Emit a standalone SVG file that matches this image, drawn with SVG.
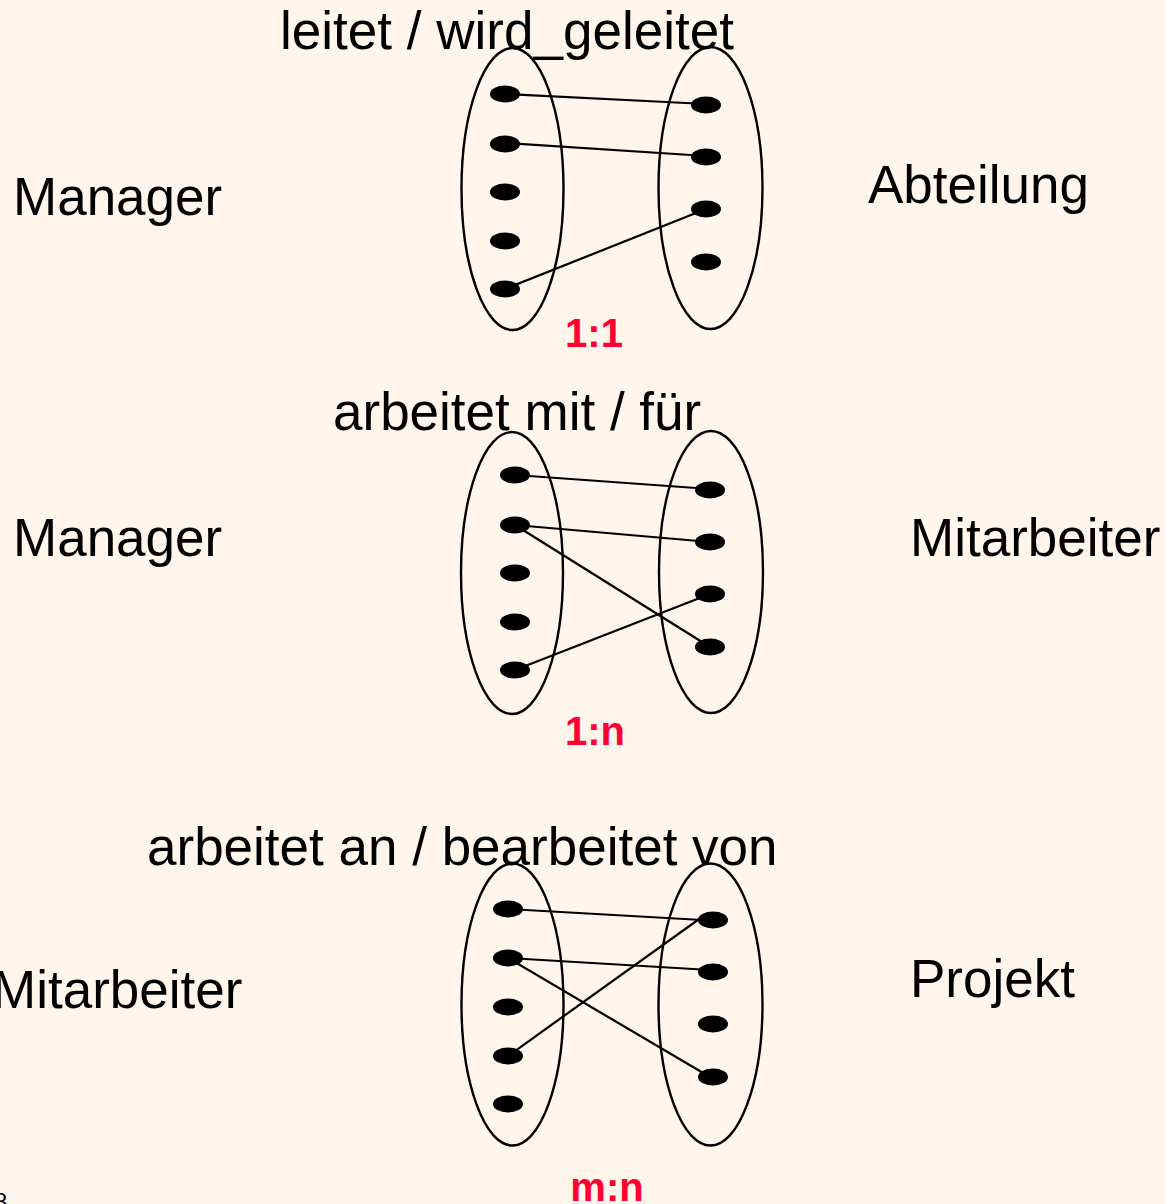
<svg xmlns="http://www.w3.org/2000/svg" width="1165" height="1204" viewBox="0 0 1165 1204">
  <style>
    .bg { fill: #FFF5EA; }
    .set { fill: none; stroke: #000; stroke-width: 2.4; }
    .elem { fill: #000; }
    .link { stroke: #000; stroke-width: 2.2; fill: none; }
    .label { font-family: "Liberation Sans", Arial, sans-serif; font-size: 53px; fill: #000; }
    .card { font-family: "Liberation Sans", Arial, sans-serif; font-size: 40px; font-weight: bold; fill: #FF0033; text-anchor: middle; }
    .page { font-family: "Liberation Sans", Arial, sans-serif; font-size: 24px; fill: #000; }
  </style>
  <defs>
    <ellipse id="dot" rx="15" ry="8.5"/>
  </defs>
  <rect class="bg" x="0" y="0" width="1165" height="1204"/>

  <!-- 1:1 Manager leitet Abteilung -->
  <g id="rel-leitet">
    <text class="label" x="280" y="49" textLength="454">leitet / wird_geleitet</text>
    <text class="card" x="594" y="347">1:1</text>
  </g>
  <g id="manager-1">
    <text class="label" x="13" y="215">Manager</text>
    <ellipse class="set" cx="512.5" cy="189" rx="51" ry="141"/>
    <use href="#dot" class="elem" x="505" y="94"/>
    <use href="#dot" class="elem" x="505" y="144"/>
    <use href="#dot" class="elem" x="505" y="192"/>
    <use href="#dot" class="elem" x="505" y="241"/>
    <use href="#dot" class="elem" x="505" y="289"/>
  </g>
  <g id="abteilung">
    <text class="label" x="868" y="203">Abteilung</text>
    <ellipse class="set" cx="710.5" cy="188" rx="52" ry="141"/>
    <use href="#dot" class="elem" x="706" y="105"/>
    <use href="#dot" class="elem" x="706" y="157"/>
    <use href="#dot" class="elem" x="706" y="209"/>
    <use href="#dot" class="elem" x="706" y="262"/>
  </g>

  <!-- 1:n Manager arbeitet mit Mitarbeiter -->
  <g id="rel-arbeitet-mit">
    <text class="label" x="333" y="430">arbeitet mit / für</text>
    <text class="card" x="595" y="745">1:n</text>
  </g>
  <g id="manager-2">
    <text class="label" x="13" y="556">Manager</text>
    <ellipse class="set" cx="512" cy="573" rx="51" ry="141"/>
    <use href="#dot" class="elem" x="515" y="475"/>
    <use href="#dot" class="elem" x="515" y="525"/>
    <use href="#dot" class="elem" x="515" y="573"/>
    <use href="#dot" class="elem" x="515" y="622"/>
    <use href="#dot" class="elem" x="515" y="670"/>
  </g>
  <g id="mitarbeiter-1">
    <text class="label" x="910" y="556">Mitarbeiter</text>
    <ellipse class="set" cx="711" cy="572" rx="52" ry="141"/>
    <use href="#dot" class="elem" x="710" y="490"/>
    <use href="#dot" class="elem" x="710" y="542"/>
    <use href="#dot" class="elem" x="710" y="594"/>
    <use href="#dot" class="elem" x="710" y="647"/>
  </g>

  <!-- m:n Mitarbeiter arbeitet an Projekt -->
  <g id="rel-arbeitet-an">
    <text class="label" x="147" y="865">arbeitet an / bearbeitet von</text>
    <text class="card" x="607" y="1201">m:n</text>
  </g>
  <g id="mitarbeiter-2">
    <text class="label" x="-8" y="1008">Mitarbeiter</text>
    <ellipse class="set" cx="512.5" cy="1004.5" rx="51" ry="141"/>
    <use href="#dot" class="elem" x="508" y="909"/>
    <use href="#dot" class="elem" x="508" y="958"/>
    <use href="#dot" class="elem" x="508" y="1007"/>
    <use href="#dot" class="elem" x="508" y="1056"/>
    <use href="#dot" class="elem" x="508" y="1104"/>
  </g>
  <g id="projekt">
    <text class="label" x="910" y="997">Projekt</text>
    <ellipse class="set" cx="710.5" cy="1004.5" rx="52" ry="141"/>
    <use href="#dot" class="elem" x="713" y="920"/>
    <use href="#dot" class="elem" x="713" y="972"/>
    <use href="#dot" class="elem" x="713" y="1024"/>
    <use href="#dot" class="elem" x="713" y="1077"/>
  </g>

  <!-- element pairings -->
  <g id="connectors">
    <line class="link" x1="505" y1="94" x2="706" y2="104"/>
    <line class="link" x1="505" y1="143" x2="706" y2="156"/>
    <line class="link" x1="505" y1="289" x2="706" y2="209"/>

    <line class="link" x1="515" y1="475" x2="710" y2="489"/>
    <line class="link" x1="515" y1="525" x2="710" y2="542"/>
    <line class="link" x1="515" y1="525" x2="710" y2="647"/>
    <line class="link" x1="515" y1="670" x2="710" y2="594"/>

    <line class="link" x1="508" y1="909" x2="702" y2="920"/>
    <line class="link" x1="508" y1="958" x2="710" y2="970"/>
    <line class="link" x1="508" y1="958" x2="710" y2="1077"/>
    <line class="link" x1="508" y1="1056" x2="702" y2="917"/>
  </g>

  <text class="page" x="-6" y="1210">8</text>
</svg>
